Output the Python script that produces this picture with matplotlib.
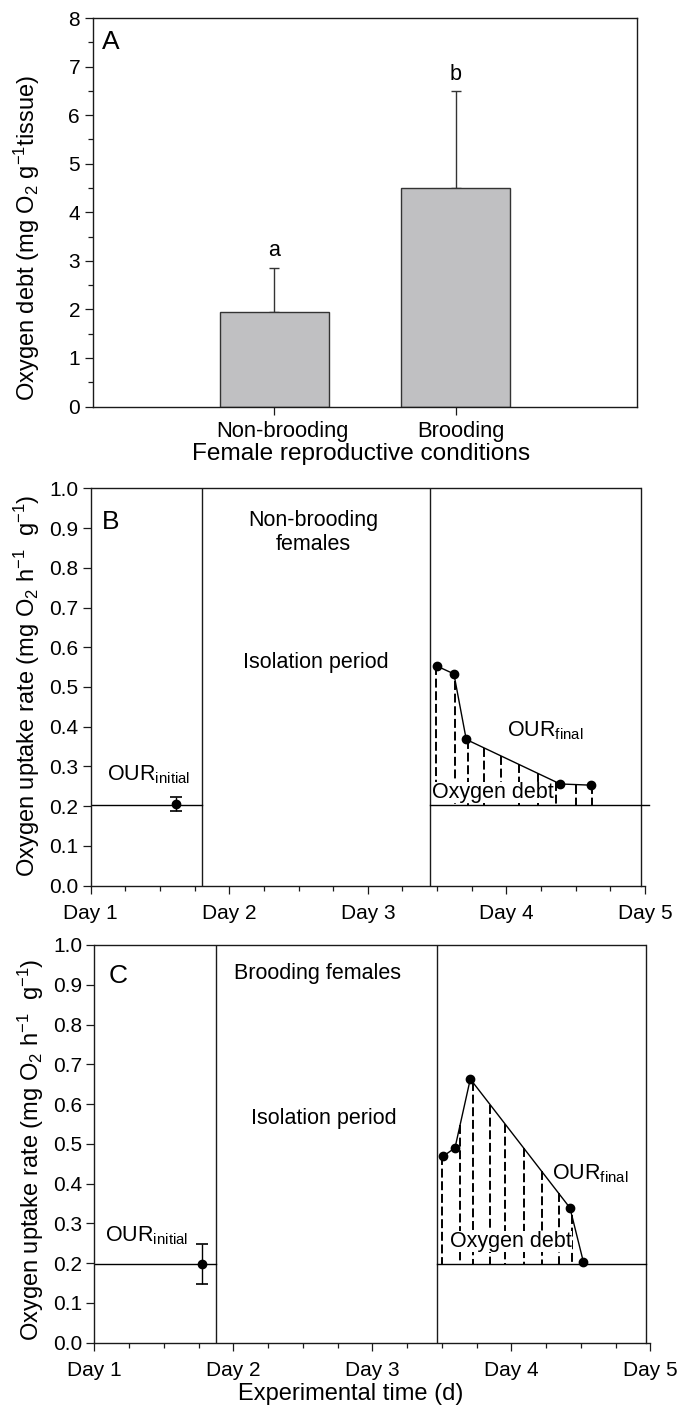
import numpy as np
import matplotlib
matplotlib.use('Agg')
import matplotlib.pyplot as plt
import matplotlib.transforms as mtrans
from matplotlib.ticker import MultipleLocator, FixedLocator, FixedFormatter

plt.rcParams['font.family'] = ['Liberation Sans', 'DejaVu Sans']
plt.rcParams['mathtext.fontset'] = 'custom'
plt.rcParams['mathtext.rm'] = 'Liberation Sans'
plt.rcParams['mathtext.it'] = 'Liberation Sans:italic'
plt.rcParams['mathtext.default'] = 'regular'

# ---------------- data ----------------
# Panel A
conditions = ['Non-brooding', 'Brooding']
debt_mean = [1.95, 4.50]
debt_err = [0.90, 2.00]
sig_letters = ['a', 'b']
sig_y = [3.09, 6.73]

# Day axis
day_ticks = [1, 2, 3, 4, 5]
day_labels = ['Day 1', 'Day 2', 'Day 3', 'Day 4', 'Day 5']

# Panel B (non-brooding)
b_init_day = 1.615
b_init_our = 0.205
b_init_err = 0.018
b_baseline = 0.203
b_iso = [1.801, 3.449]
b_days = [3.496, 3.621, 3.710, 4.388, 4.608]
b_our = [0.553, 0.533, 0.368, 0.256, 0.253]
b_hatch = [3.489, 3.631, 3.720, 3.838, 3.963, 4.090, 4.228, 4.360, 4.500, 4.620]

# Panel C (brooding)
c_init_day = 1.776
c_init_our = 0.198
c_init_err = 0.050
c_baseline = 0.197
c_iso = [1.876, 3.463]
c_days = [3.511, 3.595, 3.705, 4.422, 4.518]
c_our = [0.469, 0.490, 0.663, 0.339, 0.204]
c_hatch = [3.499, 3.631, 3.722, 3.847, 3.957, 4.089, 4.219, 4.341, 4.435]

# ---------------- figure ----------------
W, H = 694, 1408
fig = plt.figure(figsize=(W / 100, H / 100), dpi=100)

def px_axes(left, top, right, bottom):
    return fig.add_axes([left / W, 1 - bottom / H, (right - left) / W, (bottom - top) / H])

LC = '#1a1a1a'
TICK_FS = 15
LAB_FS = 17
ANN_FS = 15.5

def style_axes(ax):
    for s in ax.spines.values():
        s.set_color(LC)
        s.set_linewidth(1.0)
    ax.tick_params(which='both', direction='out', colors=LC, width=0.9,
                   labelsize=TICK_FS, labelcolor='black')
    ax.tick_params(which='major', length=5.5)
    ax.tick_params(which='minor', length=3.5)

# ---------------- Panel A ----------------
axA = px_axes(93, 18, 637, 406.5)
style_axes(axA)
xA = np.arange(1, len(conditions) + 1)
axA.bar(xA, debt_mean, width=0.6, color='#c0c0c2', edgecolor='#333333', linewidth=1.0, zorder=2)
axA.errorbar(xA, debt_mean, yerr=[np.zeros(len(debt_err)), debt_err], fmt='none',
             ecolor='#333333', elinewidth=1.0, capsize=3.8, capthick=1.0, zorder=1)
for xi, lt, yy in zip(xA, sig_letters, sig_y):
    axA.text(xi, yy, lt, ha='center', va='baseline', fontsize=ANN_FS)
axA.set_xlim(0, 3)
axA.set_ylim(0, 8)
axA.yaxis.set_major_locator(MultipleLocator(1))
axA.yaxis.set_minor_locator(MultipleLocator(0.5))
axA.set_xticks(xA)
axA.set_xticklabels(conditions)
axA.tick_params(axis='x', pad=5, labelsize=15.8)
axA.tick_params(axis='y', pad=3.8)
for lab, dx in zip(axA.get_xticklabels(), [8, 5]):
    lab.set_transform(lab.get_transform() + mtrans.ScaledTranslation(dx / 100, 0, fig.dpi_scale_trans))
axA.text(0.016, 0.921, 'A', transform=axA.transAxes, fontsize=19, va='baseline', ha='left')
fig.text(361 / W, 1 - 454 / H, 'Female reproductive conditions', fontsize=17.6,
         ha='center', va='center')
fig.text(27 / W, 1 - 238.5 / H, 'Oxygen debt (mg O$_2$ g$^{-1}$tissue)', fontsize=LAB_FS,
         rotation=90, ha='center', va='center')


def day_panel(ax, init_day, init_our, init_err, baseline, iso, days, our, hatch,
              letter, letter_xy, title, title_xy, iso_xy, oi_xy, of_xy, od_xy, base_right):
    style_axes(ax)
    ax.set_xlim(1, 5)
    ax.set_ylim(0, 1)
    ax.spines['top'].set_visible(False)
    ax.spines['right'].set_visible(False)
    right_edge = 4.97
    ax.plot([1, right_edge], [1, 1], color=LC, lw=1.0, clip_on=False, solid_capstyle='butt')
    ax.plot([right_edge, right_edge], [0, 1], color=LC, lw=1.0, clip_on=False)
    ax.xaxis.set_major_locator(FixedLocator(day_ticks))
    ax.xaxis.set_major_formatter(FixedFormatter(day_labels))
    ax.xaxis.set_minor_locator(MultipleLocator(0.25))
    ax.yaxis.set_major_locator(MultipleLocator(0.1))
    ax.yaxis.set_major_formatter(plt.FuncFormatter(lambda v, p: f'{v:.1f}'))
    ax.tick_params(axis='x', pad=8)
    ax.tick_params(axis='y', pad=3.3)
    # isolation period boundaries
    for xv in iso:
        ax.axvline(xv, color=LC, lw=1.0)
    # baselines
    ax.plot([1, iso[0]], [baseline, baseline], color='black', lw=1.0)
    ax.plot([iso[1], base_right], [baseline, baseline], color='black', lw=1.0, clip_on=False)
    # initial OUR
    ax.errorbar([init_day], [init_our], yerr=[init_err], fmt='o', color='black',
                ms=6, capsize=4.5, capthick=1.2, elinewidth=1.0)
    # hatching for oxygen debt
    tops = np.interp(hatch, days, our)
    ax.vlines(hatch, tops, [baseline] * len(hatch), colors='black', lw=1.4,
              linestyles=[(0, (4.6, 1.9))], zorder=2)
    # final OUR curve
    ax.plot(days, our, '-o', color='black', lw=1.0, ms=6, zorder=5)
    # texts
    ax.text(letter_xy[0], letter_xy[1], letter, fontsize=19, ha='left', va='baseline')
    ax.text(title_xy[0], title_xy[1], title, fontsize=ANN_FS, ha='center', va='baseline',
            linespacing=1.15)
    ax.text(iso_xy[0], iso_xy[1], 'Isolation period', fontsize=ANN_FS, ha='center', va='baseline')
    ax.text(oi_xy[0], oi_xy[1], r'OUR$_{initial}$', fontsize=ANN_FS, ha='left', va='baseline')
    ax.text(of_xy[0], of_xy[1], r'OUR$_{final}$', fontsize=ANN_FS, ha='left', va='baseline')
    ax.text(od_xy[0], od_xy[1], 'Oxygen debt', fontsize=ANN_FS, ha='left', va='baseline',
            zorder=4, bbox=dict(facecolor='white', edgecolor='none', pad=0))


# ---------------- Panel B ----------------
axB = px_axes(90.7, 488.3, 645, 885.7)
day_panel(axB, b_init_day, b_init_our, b_init_err, b_baseline, b_iso, b_days, b_our, b_hatch,
          'B', (1.079, 0.897), 'Non-brooding\nfemales', (2.605, 0.845), (2.623, 0.548),
          (1.12, 0.266), (4.001, 0.375), (3.460, 0.221), 5.03)
fig.text(27 / W, 1 - 686 / H, 'Oxygen uptake rate (mg O$_2$ h$^{-1}$  g$^{-1}$)',
         fontsize=LAB_FS, rotation=90, ha='center', va='center')

# ---------------- Panel C ----------------
axC = px_axes(94.3, 945, 650.3, 1342.7)
day_panel(axC, c_init_day, c_init_our, c_init_err, c_baseline, c_iso, c_days, c_our, c_hatch,
          'C', (1.106, 0.904), 'Brooding females', (2.608, 0.914), (2.650, 0.549),
          (1.079, 0.254), (4.291, 0.411), (3.559, 0.241), 4.97)
fig.text(31 / W, 1 - 1150 / H, 'Oxygen uptake rate (mg O$_2$ h$^{-1}$  g$^{-1}$)',
         fontsize=LAB_FS, rotation=90, ha='center', va='center')
fig.text(351 / W, 1 - 1394 / H, 'Experimental time (d)', fontsize=LAB_FS,
         ha='center', va='center')

fig.savefig('out.png', dpi=100)
